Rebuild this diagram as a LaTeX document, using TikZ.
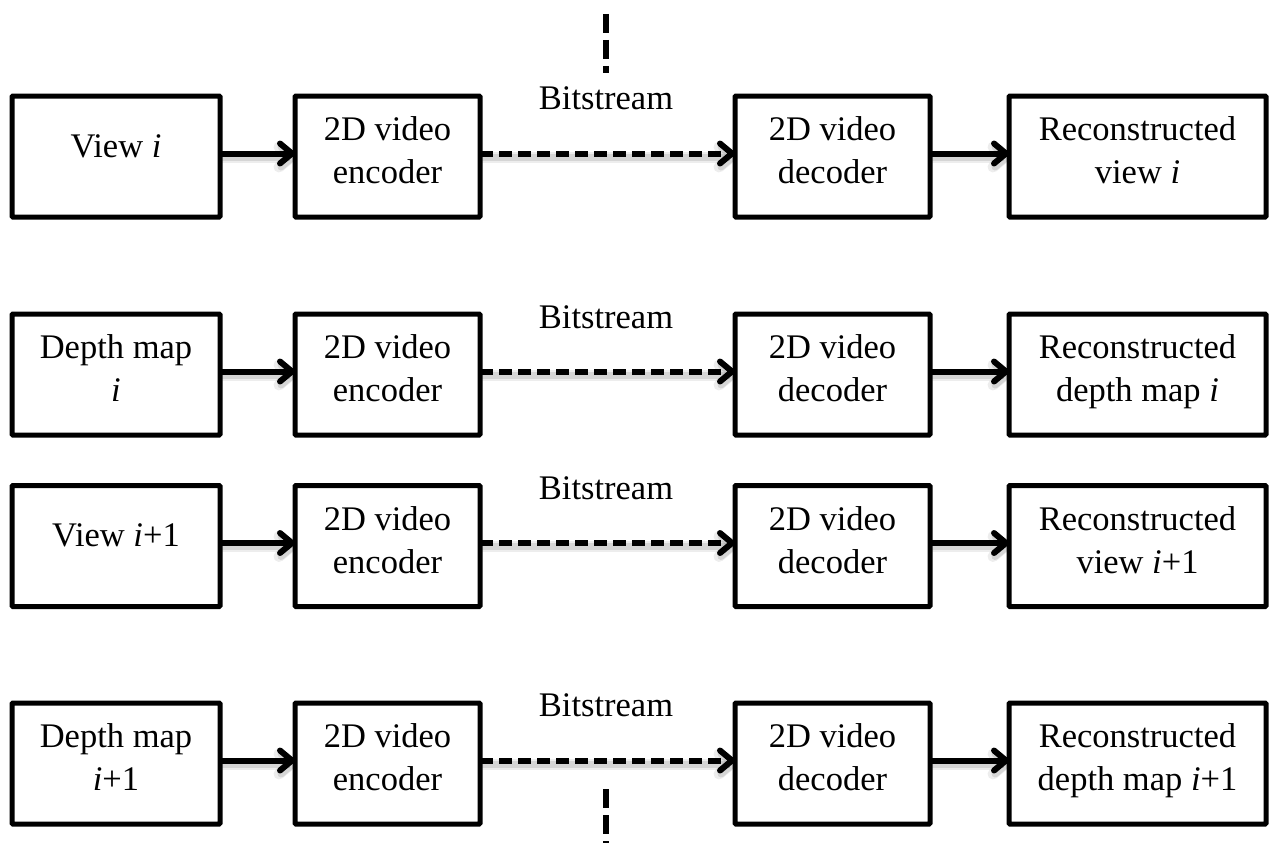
\documentclass[tikz,border=0pt]{standalone}
\usepackage{fontspec}
\setmainfont{Liberation Serif}
\usetikzlibrary{arrows.meta}

\begin{document}
\begin{tikzpicture}[x=1pt,y=-1pt,
  box/.style={draw, line width=5pt, minimum height=121pt, inner sep=0pt,
    rounded corners=1pt, outer sep=0pt},
  lbl/.style={align=center, inner sep=0pt, font=\fontsize{34.5}{43}\selectfont},
  soft/.style={
    preaction={draw=black, draw opacity=0.07, line width=11pt,
      transform canvas={xshift=1.5pt,yshift=-3.5pt}},
    preaction={draw=black, draw opacity=0.10, line width=7pt,
      transform canvas={xshift=1.5pt,yshift=-3.5pt}}},
  barb/.style={-{Straight Barb[length=12pt,width=20pt,round]}},
  flow/.style={line width=6pt, barb, soft},
  link/.style={line width=6pt, barb, soft, dash pattern=on 13pt off 6pt},
  cut/.style={line width=6.5pt, dash pattern=on 19pt off 7pt},
  tag/.style={anchor=base, inner sep=0pt, font=\fontsize{34.5}{43}\selectfont},
]
\useasboundingbox (0,0) rectangle (1269,843);

% ---- row 1: view i ----
\node[box, minimum width=208pt] (src1) at (116,156.5) {};
\node[box, minimum width=185pt] (enc1) at (387.5,156.5) {};
\node[box, minimum width=195pt] (dec1) at (832.5,156.5) {};
\node[box, minimum width=257pt] (out1) at (1137.5,156.5) {};
\node[lbl] (tsrc1) at (116,146.25) {View \textit{i}};
\node[lbl] (tenc1) at (387.5,150.25) {2D video\\encoder};
\node[lbl] (tdec1) at (832.5,150.25) {2D video\\decoder};
\node[lbl] (tout1) at (1137.5,150.25) {Reconstructed\\view \textit{i}};
\node[tag] (bs1) at (606,110) {Bitstream};

% ---- row 2: depth map i ----
\node[box, minimum width=208pt] (src2) at (116,374.5) {};
\node[box, minimum width=185pt] (enc2) at (387.5,374.5) {};
\node[box, minimum width=195pt] (dec2) at (832.5,374.5) {};
\node[box, minimum width=257pt] (out2) at (1137.5,374.5) {};
\node[lbl] (tsrc2) at (116,368.25) {Depth map\\\textit{i}};
\node[lbl] (tenc2) at (387.5,368.25) {2D video\\encoder};
\node[lbl] (tdec2) at (832.5,368.25) {2D video\\decoder};
\node[lbl] (tout2) at (1137.5,372) {Reconstructed\\depth map \textit{i}};
\node[tag] (bs2) at (606,328) {Bitstream};

% ---- row 3: view i+1 ----
\node[box, minimum width=208pt] (src3) at (116,546) {};
\node[box, minimum width=185pt] (enc3) at (387.5,546) {};
\node[box, minimum width=195pt] (dec3) at (832.5,546) {};
\node[box, minimum width=257pt] (out3) at (1137.5,546) {};
\node[lbl] (tsrc3) at (116,535.75) {View \textit{i}+1};
\node[lbl] (tenc3) at (387.5,539.75) {2D video\\encoder};
\node[lbl] (tdec3) at (832.5,539.75) {2D video\\decoder};
\node[lbl] (tout3) at (1137.5,539.75) {Reconstructed\\view \textit{i}+1};
\node[tag] (bs3) at (606,499.5) {Bitstream};

% ---- row 4: depth map i+1 ----
\node[box, minimum width=208pt] (src4) at (116,763.5) {};
\node[box, minimum width=185pt] (enc4) at (387.5,763.5) {};
\node[box, minimum width=195pt] (dec4) at (832.5,763.5) {};
\node[box, minimum width=257pt] (out4) at (1137.5,763.5) {};
\node[lbl] (tsrc4) at (116,757.25) {Depth map\\\textit{i}+1};
\node[lbl] (tenc4) at (387.5,757.25) {2D video\\encoder};
\node[lbl] (tdec4) at (832.5,757.25) {2D video\\decoder};
\node[lbl] (tout4) at (1137.5,761) {Reconstructed\\depth map \textit{i}+1};
\node[tag] (bs4) at (606,716) {Bitstream};

% ---- connectors ----
\foreach \r in {1,2,3,4} {
  \draw[flow] ([yshift=3pt]src\r.east) -- ([yshift=3pt]enc\r.west);
  \draw[link] ([yshift=3pt]enc\r.east) -- ([yshift=3pt]dec\r.west);
  \draw[flow] ([yshift=3pt]dec\r.east) -- ([yshift=3pt]out\r.west);
}

% ---- channel split ----
\coordinate (cutA) at (606,14);
\coordinate (cutB) at (606,73);
\coordinate (cutC) at (606,789);
\coordinate (cutD) at (606,843);
\draw[cut] (cutA) -- (cutB);
\draw[cut] (cutC) -- (cutD);
\end{tikzpicture}
\end{document}
